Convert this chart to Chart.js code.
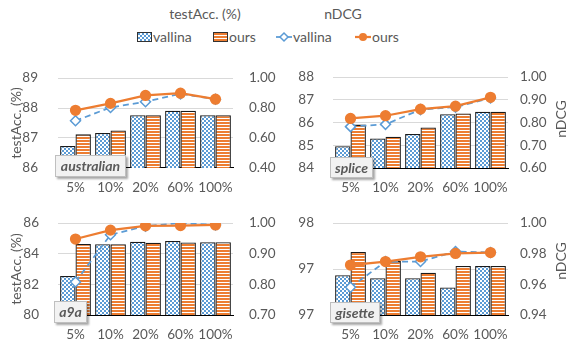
<!DOCTYPE html>
<html>
<head>
<meta charset="utf-8">
<script src="https://cdn.jsdelivr.net/npm/chart.js@4.4.1/dist/chart.umd.min.js"></script>
<style>
  body { margin: 0; background: #fff; }
  #wrap { position: relative; width: 568px; height: 343px; overflow: hidden; font-family: Lato, 'Open Sans', sans-serif; color: #595959; }
  canvas { position: absolute; }
  .t { position: absolute; font-size: 14px; line-height: 16px; white-space: nowrap; }
  .sw { position: absolute; width: 13px; height: 8px; border: 1px solid #333; }
  .sw-v { background-color: #5b9bd5; background-image: conic-gradient(#fff 25%, transparent 0 50%, #fff 0 75%, transparent 0); background-size: 4px 4px; }
  .sw-o { background: repeating-linear-gradient(to bottom, #ed7d31 0 2px, #fff 2px 3px); }
  .ic { position: absolute; }
  .tag { position: absolute; box-sizing: border-box; background: #f2f2f2; border: 1px solid #bfbfbf; box-shadow: 2px 2px 2px rgba(0,0,0,0.35);
         font: italic bold 14px Lato, 'Open Sans', sans-serif; color: #595959; text-align: center; line-height: 19px; }
  .rt { position: absolute; font-size: 14px; line-height: 14px; transform: translate(-50%, -50%) rotate(-90deg); white-space: nowrap; }
</style>
</head>
<body>
<div id="wrap">
  <div class="t" style="left:205px;top:6px;transform:translateX(-50%)">testAcc. (%)</div>
  <div class="t" style="left:343px;top:6px;transform:translateX(-50%)">nDCG</div>

  <div class="sw sw-v" style="left:137px;top:32px"></div>
  <div class="t" style="left:153px;top:29px">vallina</div>
  <div class="sw sw-o" style="left:213px;top:32px"></div>
  <div class="t" style="left:229px;top:29px">ours</div>
  <svg class="ic" style="left:276px;top:30px" width="16" height="14">
    <line x1="0" y1="7" x2="16" y2="7" stroke="#5b9bd5" stroke-width="1.75"/>
    <polygon points="8,3 12,7 8,11 4,7" fill="#fff" stroke="#5b9bd5" stroke-width="1.5"/>
  </svg>
  <div class="t" style="left:293px;top:29px">vallina</div>
  <svg class="ic" style="left:355px;top:30px" width="16" height="14">
    <line x1="0" y1="7" x2="16" y2="7" stroke="#ed7d31" stroke-width="2.25"/>
    <circle cx="8" cy="7" r="4" fill="#ed7d31"/>
  </svg>
  <div class="t" style="left:372px;top:29px">ours</div>

  <canvas id="c-australian" width="284" height="146" style="left:0;top:50px"></canvas>
  <canvas id="c-splice" width="284" height="146" style="left:284px;top:50px"></canvas>
  <canvas id="c-a9a" width="284" height="147" style="left:0;top:196px"></canvas>
  <canvas id="c-gisette" width="284" height="147" style="left:284px;top:196px"></canvas>

  <div class="rt" style="left:561px;top:119px">nDCG</div>
  <div class="rt" style="left:561px;top:261px">nDCG</div>

  <div class="tag" style="left:55px;top:155px;width:71px;height:22px">australian</div>
  <div class="tag" style="left:330px;top:157px;width:43px;height:21px">splice</div>
  <div class="tag" style="left:54px;top:301px;width:33px;height:22px">a9a</div>
  <div class="tag" style="left:330px;top:302px;width:50px;height:21px">gisette</div>
</div>

<script>
const categories = ['5%', '10%', '20%', '60%', '100%'];

const australianAccVallina = [86.73, 87.17, 87.76, 87.91, 87.76];
const australianAccOurs = [87.12, 87.25, 87.76, 87.91, 87.76];
const australianNdcgVallina = [0.715, 0.804, 0.842, 0.895, 0.859];
const australianNdcgOurs = [0.785, 0.831, 0.884, 0.899, 0.859];
const australianAccTicks = [86, 89, 1];
const australianNdcgTicks = [0.4, 1.0, 0.2];

const spliceAccVallina = [84.96, 85.3, 85.5, 86.37, 86.48];
const spliceAccOurs = [85.91, 85.38, 85.78, 86.4, 86.48];
const spliceNdcgVallina = [0.782, 0.792, 0.857, 0.868, 0.908];
const spliceNdcgOurs = [0.818, 0.830, 0.859, 0.872, 0.911];
const spliceAccTicks = [84, 88, 1];
const spliceNdcgTicks = [0.6, 1.0, 0.1];

const a9aAccVallina = [82.55, 84.62, 84.79, 84.83, 84.75];
const a9aAccOurs = [84.64, 84.62, 84.72, 84.74, 84.75];
const a9aNdcgVallina = [0.808, 0.962, 0.990, 1.000, 0.994];
const a9aNdcgOurs = [0.948, 0.977, 0.991, 0.992, 0.994];
const a9aAccTicks = [80, 86, 2];
const a9aNdcgTicks = [0.7, 1.0, 0.1];

const gisetteAccVallina = [97.15, 97.10, 97.10, 96.95, 97.30];
const gisetteAccOurs = [97.53, 97.38, 97.19, 97.30, 97.30];
const gisetteNdcgVallina = [0.9581, 0.9749, 0.9749, 0.9815, 0.9808];
const gisetteNdcgOurs = [0.9726, 0.9749, 0.9780, 0.9802, 0.9808];
const gisetteAccTicks = [96.5, 98, 0.75];
const gisetteNdcgTicks = [0.94, 1.0, 0.02];

const brand = {
    blue: '#5b9bd5',
    orange: '#ed7d31',
    edge: '#1a1a1a',
    grid: '#d9d9d9',
    text: '#595959',
};
const tickFont = { family: "Lato, 'Open Sans', sans-serif", size: 13.5 };

function checkerPattern(ctx) {
    const c = document.createElement('canvas');
    c.width = 4;
    c.height = 4;
    const g = c.getContext('2d');
    g.fillStyle = brand.blue;
    g.fillRect(0, 0, 4, 4);
    g.fillStyle = '#ffffff';
    g.fillRect(0, 0, 2, 2);
    g.fillRect(2, 2, 2, 2);
    return ctx.createPattern(c, 'repeat');
}

function stripePattern(ctx) {
    const c = document.createElement('canvas');
    c.width = 4;
    c.height = 3;
    const g = c.getContext('2d');
    g.fillStyle = brand.orange;
    g.fillRect(0, 0, 4, 2);
    g.fillStyle = '#ffffff';
    g.fillRect(0, 2, 4, 1);
    return ctx.createPattern(c, 'repeat');
}

function renderPanel(p) {
    const canvas = document.getElementById(p.id);
    const ctx = canvas.getContext('2d');
    return new Chart(ctx, {
        type: 'bar',
        data: {
            labels: categories,
            datasets: [
                {
                    type: 'line', label: 'ours', data: p.ndcgOurs, yAxisID: 'y1', order: 1,
                    borderColor: brand.orange, backgroundColor: brand.orange, borderWidth: 2.25,
                    pointRadius: 4.5, pointBackgroundColor: brand.orange, pointBorderColor: brand.orange,
                    tension: 0,
                },
                {
                    type: 'line', label: 'vallina', data: p.ndcgVallina, yAxisID: 'y1', order: 2,
                    borderColor: brand.blue, borderWidth: 1.75, borderDash: [6, 4],
                    pointStyle: 'rectRot', pointRadius: 5, pointBackgroundColor: '#ffffff',
                    pointBorderColor: brand.blue, pointBorderWidth: 1.5, tension: 0,
                },
                {
                    type: 'bar', label: 'vallina', data: p.accVallina, yAxisID: 'y', order: 3,
                    backgroundColor: checkerPattern(ctx), borderColor: brand.edge, borderWidth: 1.3,
                    borderSkipped: false,
                },
                {
                    type: 'bar', label: 'ours', data: p.accOurs, yAxisID: 'y', order: 4,
                    backgroundColor: stripePattern(ctx), borderColor: brand.edge, borderWidth: 1.3,
                    borderSkipped: false,
                },
            ],
        },
        options: {
            responsive: false,
            animation: false,
            layout: { padding: { top: p.top, left: 0, right: 0, bottom: 0 } },
            datasets: { bar: { categoryPercentage: 0.88, barPercentage: 1 } },
            plugins: { legend: { display: false }, tooltip: { enabled: false } },
            scales: {
                x: {
                    offset: true,
                    grid: { display: false, drawTicks: false },
                    border: { color: '#000000', width: 1 },
                    ticks: { color: brand.text, font: tickFont, padding: 12, maxRotation: 0, autoSkip: false },
                    afterFit: (s) => { s.height = 28; },
                },
                y: {
                    position: 'left',
                    min: p.accTicks[0],
                    max: p.accTicks[1],
                    ticks: {
                        stepSize: p.accTicks[2], color: brand.text, font: tickFont, padding: p.leftPad,
                        callback: (v) => Math.round(v),
                    },
                    grid: { color: brand.grid, drawTicks: false },
                    border: { display: false },
                    title: {
                        display: p.leftTitle, text: 'testAcc. (%)', color: brand.text,
                        font: { family: tickFont.family, size: 14 },
                        padding: { top: 8, bottom: 0 },
                    },
                    afterFit: (s) => { s.width = p.leftW; },
                },
                y1: {
                    position: 'right',
                    min: p.ndcgTicks[0],
                    max: p.ndcgTicks[1],
                    ticks: {
                        stepSize: p.ndcgTicks[2], color: brand.text, font: tickFont, padding: p.rightPad,
                        callback: (v) => v.toFixed(2),
                    },
                    grid: { drawOnChartArea: false, drawTicks: false },
                    border: { display: false },
                    afterFit: (s) => { s.width = p.rightW; },
                },
            },
        },
    });
}

const panels = [
    {
        id: 'c-australian', accVallina: australianAccVallina, accOurs: australianAccOurs,
        ndcgVallina: australianNdcgVallina, ndcgOurs: australianNdcgOurs,
        accTicks: australianAccTicks, ndcgTicks: australianNdcgTicks,
        top: 12, leftW: 58, rightW: 51, leftPad: 20, rightPad: 16, leftTitle: true,
    },
    {
        id: 'c-splice', accVallina: spliceAccVallina, accOurs: spliceAccOurs,
        ndcgVallina: spliceNdcgVallina, ndcgOurs: spliceNdcgOurs,
        accTicks: spliceAccTicks, ndcgTicks: spliceNdcgTicks,
        top: 12, leftW: 49, rightW: 60, leftPad: 19, rightPad: 12, leftTitle: false,
    },
    {
        id: 'c-a9a', accVallina: a9aAccVallina, accOurs: a9aAccOurs,
        ndcgVallina: a9aNdcgVallina, ndcgOurs: a9aNdcgOurs,
        accTicks: a9aAccTicks, ndcgTicks: a9aNdcgTicks,
        top: 13, leftW: 58, rightW: 51, leftPad: 19, rightPad: 16, leftTitle: true,
    },
    {
        id: 'c-gisette', accVallina: gisetteAccVallina, accOurs: gisetteAccOurs,
        ndcgVallina: gisetteNdcgVallina, ndcgOurs: gisetteNdcgOurs,
        accTicks: gisetteAccTicks, ndcgTicks: gisetteNdcgTicks,
        top: 13, leftW: 49, rightW: 60, leftPad: 19, rightPad: 12, leftTitle: false,
    },
];

panels.forEach(renderPanel);
</script>
</body>
</html>
